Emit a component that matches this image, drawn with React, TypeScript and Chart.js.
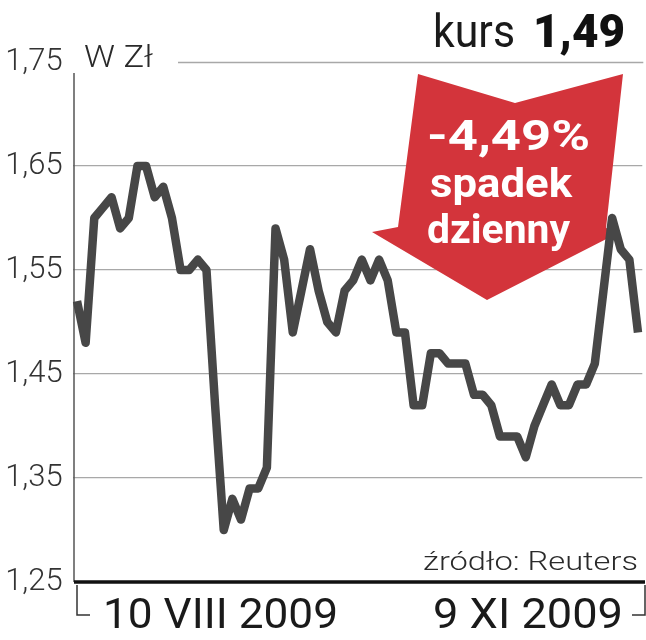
import React, { useEffect, useRef } from "react";
import { Chart, registerables } from "chart.js";

Chart.register(...registerables);

// trading days 10 VIII 2009 – 9 XI 2009
const categories = [
  "10.08", "11.08", "12.08", "13.08", "14.08", "17.08", "18.08", "19.08", "20.08", "21.08",
  "24.08", "25.08", "26.08", "27.08", "28.08", "31.08",
  "01.09", "02.09", "03.09", "04.09", "07.09", "08.09", "09.09", "10.09", "11.09",
  "14.09", "15.09", "16.09", "17.09", "18.09", "21.09", "22.09", "23.09", "24.09", "25.09",
  "28.09", "29.09", "30.09",
  "01.10", "02.10", "05.10", "06.10", "07.10", "08.10", "09.10", "12.10", "13.10", "14.10",
  "15.10", "16.10", "19.10", "20.10", "21.10", "22.10", "23.10", "26.10", "27.10", "28.10",
  "29.10", "30.10",
  "02.11", "03.11", "04.11", "05.11", "06.11", "09.11",
];

const kurs = [
  1.52, 1.48, 1.60, 1.61, 1.62, 1.59, 1.60, 1.65, 1.65, 1.62,
  1.63, 1.60, 1.55, 1.55, 1.56, 1.55, 1.42, 1.30, 1.33, 1.31,
  1.34, 1.34, 1.36, 1.59, 1.56, 1.49, 1.53, 1.57, 1.53, 1.50,
  1.49, 1.53, 1.54, 1.56, 1.54, 1.56, 1.54, 1.49, 1.49, 1.42,
  1.42, 1.47, 1.47, 1.46, 1.46, 1.46, 1.43, 1.43, 1.42, 1.39,
  1.39, 1.39, 1.37, 1.40, 1.42, 1.44, 1.42, 1.42, 1.44, 1.44,
  1.46, 1.53, 1.60, 1.57, 1.56, 1.49,
];

const yMin = 1.25;
const yMax = 1.75;
const yStep = 0.1;

const xLabels = ["10 VIII 2009", "9 XI 2009"];
const unitLabel = "W Zł";
const titleLabel = "kurs";
const titleValue = "1,49";
const arrowLines = ["-4,49%", "spadek", "dzienny"];
const sourceLabel = "źródło: Reuters";

function fitText(
  ctx: CanvasRenderingContext2D,
  text: string,
  x: number,
  baseline: number,
  font: string,
  color: string,
  width: number,
  align: "left" | "right"
) {
  ctx.save();
  ctx.font = font;
  ctx.fillStyle = color;
  ctx.textBaseline = "alphabetic";
  ctx.textAlign = "left";
  const w = ctx.measureText(text).width;
  const s = width / w;
  const left = align === "left" ? x : x - width;
  ctx.translate(left, baseline);
  ctx.scale(s, 1);
  ctx.fillText(text, 0, 0);
  ctx.restore();
}

const decorPlugin = {
  id: "decor",
  beforeDatasetsDraw(chart: any) {
    const ctx: CanvasRenderingContext2D = chart.ctx;
    const y = chart.scales.y;
    const area = chart.chartArea;
    ctx.save();
    // top grid line (after unit label)
    ctx.strokeStyle = "#a8a8a8";
    ctx.lineWidth = 1.3;
    const yTop = Math.round(y.getPixelForValue(yMax)) + 0.5;
    ctx.beginPath();
    ctx.moveTo(178, yTop);
    ctx.lineTo(area.right + 1, yTop);
    ctx.stroke();
    // left axis line
    ctx.strokeStyle = "#555";
    ctx.lineWidth = 1.5;
    ctx.beginPath();
    ctx.moveTo(74, 73);
    ctx.lineTo(74, y.getPixelForValue(yMin));
    ctx.stroke();

    // red arrow
    ctx.fillStyle = "#d3343b";
    ctx.beginPath();
    ctx.moveTo(418, 74);
    ctx.lineTo(515, 103);
    ctx.lineTo(623, 74);
    ctx.lineTo(606, 228);
    ctx.lineTo(620, 232);
    ctx.lineTo(487, 300);
    ctx.lineTo(372, 232);
    ctx.lineTo(398, 227);
    ctx.closePath();
    ctx.fill();
    ctx.restore();

    fitText(ctx, arrowLines[0], 427, 150, "700 42px Roboto", "#fff", 163, "left");
    fitText(ctx, arrowLines[1], 430, 197, "700 40px Roboto", "#fff", 142, "left");
    fitText(ctx, arrowLines[2], 427, 243, "700 40px Roboto", "#fff", 143, "left");
  },
  afterDraw(chart: any) {
    const ctx: CanvasRenderingContext2D = chart.ctx;
    const y = chart.scales.y;
    ctx.save();
    // bottom axis
    const yb = y.getPixelForValue(yMin);
    ctx.strokeStyle = "#111";
    ctx.lineWidth = 3.5;
    ctx.beginPath();
    ctx.moveTo(74, yb);
    ctx.lineTo(645, yb);
    ctx.stroke();
    // brackets
    ctx.lineWidth = 1.5;
    ctx.strokeStyle = "#333";
    ctx.beginPath();
    ctx.moveTo(77, yb + 3);
    ctx.lineTo(77, 615);
    ctx.lineTo(90, 615);
    ctx.moveTo(632, 615);
    ctx.lineTo(645, 615);
    ctx.lineTo(645, yb + 3);
    ctx.stroke();
    ctx.restore();

    fitText(ctx, unitLabel, 84, 67, "300 31px Roboto", "#2a2a2a", 69, "left");
    fitText(ctx, titleLabel, 433, 47, "400 46px Roboto", "#1a1a1a", 82, "left");
    fitText(ctx, titleValue, 625, 47, "900 46px Roboto", "#111", 92, "right");
    fitText(ctx, sourceLabel, 638, 570, "300 26px Roboto", "#2a2a2a", 215, "right");
    fitText(ctx, xLabels[0], 103, 628, "400 43px Roboto", "#1a1a1a", 235, "left");
    fitText(ctx, xLabels[1], 623, 628, "400 43px Roboto", "#1a1a1a", 190, "right");
  },
};

export default function App() {
  const ref = useRef<HTMLCanvasElement | null>(null);
  useEffect(() => {
    if (!ref.current) return;
    const isVal = (v: number, t: number) => Math.abs(v - t) < 1e-6;
    const chart = new Chart(ref.current, {
      type: "line",
      data: {
        labels: categories,
        datasets: [
          {
            data: kurs,
            borderColor: "#474747",
            borderWidth: 8.5,
            pointRadius: 0,
            tension: 0,
            borderJoinStyle: "round",
            fill: false,
            clip: false as any,
          },
        ],
      },
      options: {
        animation: false,
        responsive: false,
        events: [],
        layout: { padding: { left: 0, right: 3.7, top: 62, bottom: 58 } },
        plugins: { legend: { display: false }, tooltip: { enabled: false } },
        scales: {
          x: {
            display: false,
            offset: true,
          },
          y: {
            min: yMin,
            max: yMax,
            afterFit: (s: any) => {
              s.width = 72.7;
            },
            border: { display: false },
            grid: {
              drawTicks: false,
              lineWidth: 1.3,
              color: (c: any) =>
                isVal(c.tick.value, yMax) || isVal(c.tick.value, yMin) ? "rgba(0,0,0,0)" : "#a8a8a8",
            },
            ticks: {
              stepSize: yStep,
              padding: 10,
              color: "#333",
              font: { family: "Roboto", weight: "300" as any, size: 31 },
              callback: (v: any) => Number(v).toFixed(2).replace(".", ","),
            },
          },
        },
      },
      plugins: [decorPlugin],
    });
    return () => chart.destroy();
  }, []);
  return (
    <div style={{ position: "absolute", left: 0, top: 0, width: 646, height: 640, background: "#fff" }}>
      <canvas ref={ref} width={646} height={640} style={{ display: "block" }} />
    </div>
  );
}
